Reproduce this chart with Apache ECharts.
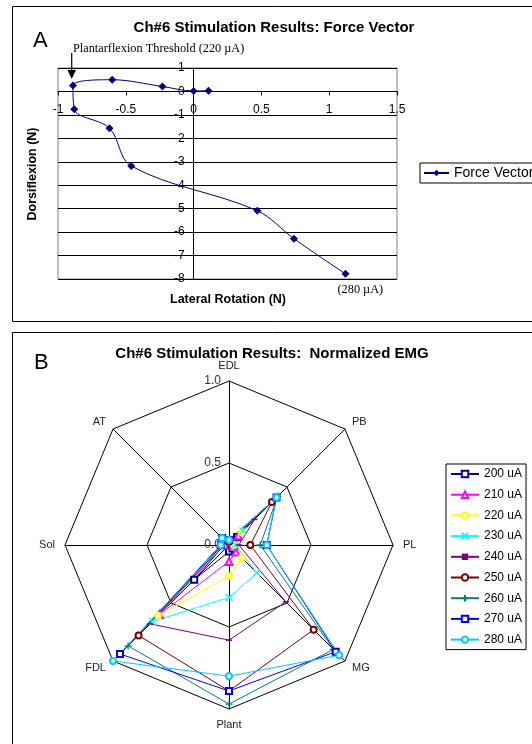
<!DOCTYPE html>
<html><head><meta charset="utf-8">
<script src="https://cdn.jsdelivr.net/npm/echarts@6/dist/echarts.min.js"></script>
<style>html,body{margin:0;padding:0;background:#fff}#c{width:532px;height:744px}</style>
</head><body><div id="c"></div>
<script>
// ---------- Panel A: force vector ----------
const forceX = [0.11, 0.0, -0.23, -0.6, -0.89, -0.88, -0.62, -0.46, 0.47, 0.74, 1.12];
const forceY = [0.03, 0.02, 0.21, 0.5, 0.25, -0.76, -1.57, -3.18, -5.09, -6.28, -7.78];
const xRange = [-1, 1.5, 0.5];   // min, max, interval
const yRange = [-8, 1, 1];

// ---------- Panel B: normalized EMG ----------
const muscles = ['EDL', 'AT', 'Sol', 'FDL', 'Plant', 'MG', 'PL', 'PB'];
const currents = ['200 uA', '210 uA', '220 uA', '230 uA', '240 uA', '250 uA', '260 uA', '270 uA', '280 uA'];
const emg200 = [0.02, 0.04, 0.03, 0.30, 0.04, 0.03, 0.02, 0.07];
const emg210 = [0.02, 0.04, 0.03, 0.60, 0.10, 0.06, 0.03, 0.08];
const emg220 = [0.02, 0.05, 0.04, 0.61, 0.19, 0.11, 0.03, 0.11];
const emg230 = [0.02, 0.05, 0.04, 0.66, 0.32, 0.24, 0.04, 0.12];
const emg240 = [0.02, 0.05, 0.04, 0.68, 0.58, 0.49, 0.06, 0.22];
const emg250 = [0.02, 0.05, 0.05, 0.78, 0.89, 0.73, 0.13, 0.37];
const emg260 = [0.02, 0.06, 0.05, 0.87, 0.97, 0.90, 0.19, 0.42];
const emg270 = [0.03, 0.06, 0.05, 0.94, 0.89, 0.92, 0.23, 0.41];
const emg280 = [0.03, 0.06, 0.05, 1.00, 0.80, 0.95, 0.23, 0.41];
const emgValues = [emg200, emg210, emg220, emg230, emg240, emg250, emg260, emg270, emg280];

const colors = ['#000080', '#FF00FF', '#FFFF00', '#00FFFF', '#800080', '#800000', '#008080', '#0000FF', '#00CCFF'];
const symbols = ['emptyRect', 'emptyTriangle', 'emptyCircle', 'path://M0,0L10,10M10,0L0,10', 'rect', 'emptyCircle', 'path://M5,0L5,10M0,5L10,5', 'emptyRect', 'emptyCircle'];
const symSizes = [6, 7, 6, 7, [6, 1.5], 6, 7, 6, 6];

const SANS = 'Liberation Sans, Arial, sans-serif';
const SERIF = 'Liberation Serif, Times New Roman, serif';

// grid placement of panel A
const G = { left: 58, top: 68, width: 339, height: 211 };
// axis crossing at zero (derived from the scales)
const xAxisOffset = -G.height * (yRange[1] - 0) / (yRange[1] - yRange[0]);
const yAxisOffset = -G.width * (0 - xRange[0]) / (xRange[1] - xRange[0]);

const chart = echarts.init(document.getElementById('c'));

function symStyle(i) {
  const s = { color: colors[i] };
  if (symbols[i].indexOf('path://') === 0) { s.borderColor = colors[i]; s.borderWidth = 1.3; }
  return s;
}

const legendDummies = currents.map((n, i) => ({
  type: 'line', name: n, data: [], xAxisIndex: 0, yAxisIndex: 0,
  symbol: symbols[i], symbolSize: symSizes[i],
  itemStyle: symStyle(i), lineStyle: { color: colors[i], width: 1 }
}));

const radarSeries = currents.map((n, i) => ({
  type: 'radar', name: n, radarIndex: 0,
  symbol: symbols[i], symbolSize: symSizes[i],
  itemStyle: symStyle(i), lineStyle: { color: colors[i], width: 1 },
  data: [{ name: n, value: emgValues[i] }]
}));

const option = {
  animation: false,
  backgroundColor: '#fff',
  title: [
    { text: 'Ch#6 Stimulation Results: Force Vector', left: 274, top: 20, textAlign: 'center', padding: 0,
      textStyle: { fontFamily: SANS, fontSize: 15, fontWeight: 'bold', color: '#000' } },
    { text: 'Ch#6 Stimulation Results:  Normalized EMG', left: 272, top: 346.5, textAlign: 'center', padding: 0,
      textStyle: { fontFamily: SANS, fontSize: 15, fontWeight: 'bold', color: '#000' } }
  ],
  legend: [
    { data: ['Force Vector'], orient: 'vertical', left: 420, top: 163,
      borderColor: '#000', borderWidth: 1, padding: [3, 4, 3, 3],
      itemWidth: 25, itemHeight: 8, selectedMode: false,
      textStyle: { fontFamily: SANS, fontSize: 14, color: '#000', lineHeight: 14 } },
    { data: currents, orient: 'vertical', left: 446, top: 464,
      borderColor: '#000', borderWidth: 1, padding: [3, 4, 3, 4],
      itemWidth: 28, itemHeight: 8, itemGap: 6.7, selectedMode: false,
      textStyle: { fontFamily: SANS, fontSize: 12, color: '#000', lineHeight: 14 } }
  ],
  grid: { left: G.left, top: G.top, width: G.width, height: G.height, show: true, borderColor: '#808080', borderWidth: 1 },
  xAxis: {
    type: 'value', min: xRange[0], max: xRange[1], interval: xRange[2],
    position: 'top', offset: xAxisOffset,
    axisLine: { onZero: false, lineStyle: { color: '#000', width: 1 } },
    axisTick: { show: true, inside: true, length: 4, lineStyle: { color: '#000' } },
    axisLabel: { inside: true, fontFamily: SANS, fontSize: 12, color: '#000', margin: 12 },
    splitLine: { show: false }
  },
  yAxis: {
    type: 'value', min: yRange[0], max: yRange[1], interval: yRange[2],
    position: 'left', offset: yAxisOffset,
    axisLine: { onZero: false, lineStyle: { color: '#000', width: 1 } },
    axisTick: { show: true, length: 4, lineStyle: { color: '#000' } },
    axisLabel: { fontFamily: SANS, fontSize: 12, color: '#000', margin: 9 },
    splitLine: { show: true, lineStyle: { color: '#000', width: 1 } }
  },
  radar: {
    center: [229, 545], radius: 164, startAngle: 90, splitNumber: 2, shape: 'polygon',
    indicator: muscles.map((m, i) => {
      const ind = { name: m, min: 0, max: 1 };
      if (i === 0) ind.axisLabel = { show: true, fontFamily: SANS, fontSize: 12, color: '#333',
        formatter: v => Number(v).toFixed(1) };
      return ind;
    }),
    axisName: { fontFamily: SANS, fontSize: 11, color: '#222' },
    nameGap: 10,
    splitLine: { lineStyle: { color: '#000', width: 1 } },
    splitArea: { show: false },
    axisLine: { lineStyle: { color: '#000', width: 1 } },
    axisTick: { show: false },
    axisLabel: { show: false }
  },
  series: [
    { type: 'line', name: 'Force Vector', xAxisIndex: 0, yAxisIndex: 0,
      data: forceX.map((x, i) => [x, forceY[i]]), smooth: 0.35,
      symbol: 'diamond', symbolSize: 8,
      itemStyle: { color: '#000080' }, lineStyle: { color: '#000080', width: 1 } }
  ].concat(legendDummies, radarSeries),
  graphic: [
    { type: 'rect', shape: { x: 12.5, y: 6.5, width: 560, height: 315 }, style: { fill: 'none', stroke: '#000', lineWidth: 1 }, silent: true },
    { type: 'rect', shape: { x: 12.5, y: 332.5, width: 560, height: 440 }, style: { fill: 'none', stroke: '#000', lineWidth: 1 }, silent: true },
    { type: 'text', left: 33, top: 30, style: { text: 'A', font: '22px ' + SANS, fill: '#000' } },
    { type: 'text', left: 34, top: 352, style: { text: 'B', font: '22px ' + SANS, fill: '#000' } },
    { type: 'text', x: 73, y: 48.5, style: { text: 'Plantarflexion Threshold (220 µA)', font: '12.3px ' + SERIF, fill: '#000', textVerticalAlign: 'middle' } },
    { type: 'text', x: 337.5, y: 290, style: { text: '(280 µA)', font: '12.3px ' + SERIF, fill: '#000', textVerticalAlign: 'middle' } },
    { type: 'line', shape: { x1: 71.7, y1: 53, x2: 71.7, y2: 72 }, style: { stroke: '#000', lineWidth: 1.2 } },
    { type: 'polygon', shape: { points: [[67.5, 70], [76, 70], [71.7, 79]] }, style: { fill: '#000' } },
    { type: 'text', x: 228, y: 300, style: { text: 'Lateral Rotation (N)', font: 'bold 12.5px ' + SANS, fill: '#000', textAlign: 'center', textVerticalAlign: 'middle' } },
    { type: 'text', x: 33, y: 174, rotation: Math.PI / 2, style: { text: 'Dorsiflexion (N)', font: 'bold 12.5px ' + SANS, fill: '#000', textAlign: 'center', textVerticalAlign: 'middle' } }
  ]
};
chart.setOption(option);
</script>
</body></html>
